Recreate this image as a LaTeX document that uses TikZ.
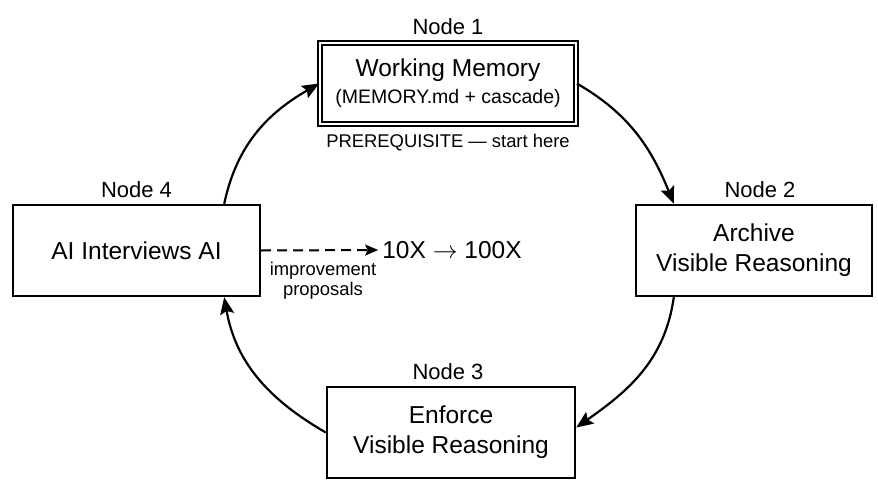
\documentclass[tikz,border=0pt]{standalone}
\usepackage{fontspec}
\setmainfont{Liberation Sans}
\usetikzlibrary{calc,positioning,arrows.meta}

\begin{document}
\begin{tikzpicture}[x=1pt,y=1pt,>={Stealth[length=17pt,width=14pt,inset=3pt]},
		main node/.style={rectangle,draw,line width=2.4pt,minimum height=91pt,inner sep=0pt,
			align=center,font=\fontsize{24.5}{30}\selectfont},
		tag node/.style={inner sep=0pt,font=\fontsize{22}{26}\selectfont},
		note node/.style={inner sep=0pt,align=center,font=\fontsize{18.4}{20}\selectfont}]
	\useasboundingbox (0,0) rectangle (878,483);

	\node[main node,minimum width=256pt,minimum height=81pt,double,double distance=2.6pt,line width=1.7pt,
		font=\fontsize{24.5}{27}\selectfont] (1) at (448,399.5) {Working Memory\\{\fontsize{19.5}{24}\selectfont(MEMORY.md + cascade)}};
	\node[main node,minimum width=236pt] (2) at (754,232.5) {Archive\\Visible Reasoning};
	\node[main node,minimum width=248pt] (3) at (451,50.5) {Enforce\\Visible Reasoning};
	\node[main node,minimum width=247pt] (4) at (136.5,232.5) {AI Interviews AI};

	\node[tag node] (t1) [above=7pt of 1] {Node 1};
	\node[tag node] (t2) [above=6pt of 2,xshift=6pt] {Node 2};
	\node[tag node] (t3) [above=6pt of 3,xshift=-3pt] {Node 3};
	\node[tag node] (t4) [above=6pt of 4] {Node 4};
	\node[note node] (pre) [below=9pt of 1] {PREREQUISITE — start here};

	\node[inner sep=0pt,font=\fontsize{24.5}{30}\selectfont] (gain) at (452,233) {10X $\rightarrow$ 100X};
	\node[note node] (why) at (323,202) {improvement\\proposals};

	\path[->,line width=2.2pt]
	(1.east) edge[out=-30,in=112] ($(2.north west)+(39,0)$)
	($(2.south west)+(39,0)$) edge[out=-98,in=35] ($(3.east)+(0,5)$)
	(3.west) edge[out=150,in=-80] ($(4.south east)+(-37,0)$)
	($(4.north east)+(-37,0)$) edge[out=78,in=-150] (1.west);

	\draw[-{Stealth[length=13pt,width=11pt,inset=2.5pt]},line width=2pt,dash pattern=on 10pt off 6pt] (4.east) -- ([xshift=-4pt]gain.west);

\end{tikzpicture}
\end{document}
